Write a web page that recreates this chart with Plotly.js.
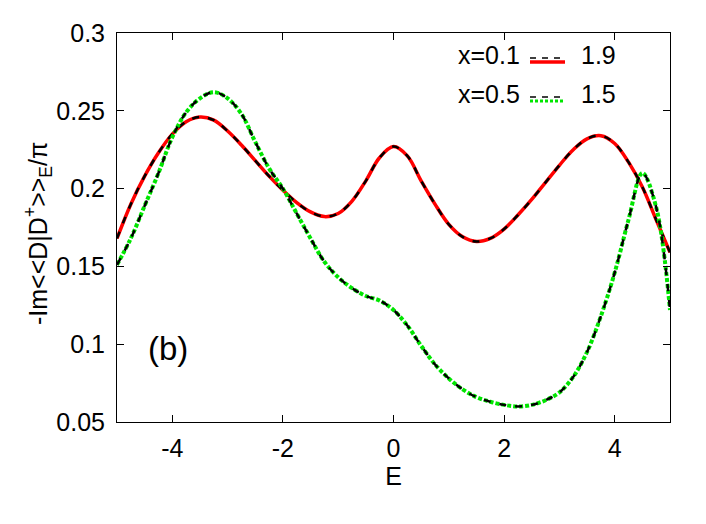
<!DOCTYPE html>
<html>
<head>
<meta charset="utf-8">
<script src="https://cdn.plot.ly/plotly-3.0.1.min.js"></script>
<style>html,body{margin:0;padding:0;background:#fff;}#chart{width:706px;height:524px;}</style>
</head>
<body>
<div id="chart"></div>
<script>
const energy = [-5,-4.75,-4.5,-4.25,-4,-3.75,-3.5,-3.25,-3,-2.75,-2.5,-2.25,-2,-1.75,-1.5,-1.25,-1,-0.75,-0.5,-0.25,0,0.25,0.5,0.75,1,1.25,1.5,1.75,2,2.25,2.5,2.75,3,3.25,3.5,3.75,4,4.25,4.5,4.75,5];
const red19 = [0.168,0.190,0.208,0.223,0.235,0.243,0.246,0.244,0.237,0.228,0.218,0.208,0.199,0.191,0.185,0.182,0.184,0.192,0.205,0.220,0.227,0.221,0.205,0.190,0.177,0.169,0.166,0.168,0.174,0.183,0.193,0.204,0.215,0.225,0.232,0.234,0.229,0.217,0.201,0.180,0.159];
const black01 = [0.168,0.190,0.208,0.223,0.235,0.243,0.246,0.244,0.237,0.228,0.218,0.208,0.199,0.191,0.185,0.182,0.184,0.192,0.205,0.220,0.227,0.221,0.205,0.190,0.177,0.169,0.166,0.168,0.174,0.183,0.193,0.204,0.215,0.225,0.232,0.234,0.229,0.217,0.201,0.180,0.159];
const green15 = [0.151,0.168,0.189,0.210,0.233,0.249,0.258,0.262,0.258,0.248,0.230,0.213,0.200,0.184,0.168,0.153,0.143,0.136,0.131,0.128,0.122,0.112,0.099,0.087,0.078,0.071,0.066,0.063,0.061,0.060,0.061,0.064,0.069,0.079,0.095,0.118,0.146,0.180,0.210,0.188,0.122];
const black05 = [0.151,0.168,0.189,0.210,0.233,0.249,0.258,0.262,0.258,0.248,0.230,0.213,0.200,0.184,0.168,0.153,0.143,0.136,0.131,0.128,0.122,0.112,0.099,0.087,0.078,0.071,0.066,0.063,0.061,0.060,0.061,0.064,0.069,0.079,0.095,0.118,0.146,0.180,0.210,0.188,0.122];
const xTicks = [-4,-2,0,2,4];
const yTicks = [0.05,0.1,0.15,0.2,0.25,0.3];
const legendRows = [["x=0.1","1.9"],["x=0.5","1.5"]];

const RED = "#ff0000", GREEN = "#00e600", BLACK = "#000000";
const FONT = "Liberation Sans, Arial, sans-serif";

const traces = [
  {x: energy, y: red19, mode: "lines", line: {color: RED, width: 3.5, shape: "spline", smoothing: 1}, hoverinfo: "skip"},
  {x: energy, y: black01, mode: "lines", line: {color: BLACK, width: 2.5, dash: "7px,9px", shape: "spline", smoothing: 1}, hoverinfo: "skip"},
  {x: energy, y: green15, mode: "lines", line: {color: GREEN, width: 4, dash: "4px,2px", shape: "spline", smoothing: 1}, hoverinfo: "skip"},
  {x: energy, y: black05, mode: "lines", line: {color: BLACK, width: 2.5, dash: "7px,9px", shape: "spline", smoothing: 1}, hoverinfo: "skip"}
];

// legend placement in pixels -> paper
const L = 117, R = 670, T = 33, B = 422;
const px = v => (v - L) / (R - L);
const py = v => (B - v) / (B - T);

const annotations = [];
const shapes = [];
const rowY = [55, 94];
legendRows.forEach((row, i) => {
  annotations.push({xref: "paper", yref: "paper", x: px(522), y: py(rowY[i]), xanchor: "right", yanchor: "middle", text: row[0], showarrow: false, font: {family: FONT, size: 25, color: "#000"}});
  annotations.push({xref: "paper", yref: "paper", x: px(579), y: py(rowY[i]), xanchor: "left", yanchor: "middle", text: row[1], showarrow: false, font: {family: FONT, size: 25, color: "#000"}});
});
// legend samples
shapes.push({type: "line", xref: "paper", yref: "paper", x0: px(530), x1: px(565), y0: py(62), y1: py(62), line: {color: RED, width: 3.5}});
shapes.push({type: "line", xref: "paper", yref: "paper", x0: px(530), x1: px(562), y0: py(58), y1: py(58), line: {color: BLACK, width: 1.5, dash: "6px,6px"}});
shapes.push({type: "line", xref: "paper", yref: "paper", x0: px(530), x1: px(565), y0: py(101), y1: py(101), line: {color: GREEN, width: 3, dash: "3px,2px"}});
shapes.push({type: "line", xref: "paper", yref: "paper", x0: px(530), x1: px(562), y0: py(97), y1: py(97), line: {color: BLACK, width: 1.5, dash: "6px,6px"}});

annotations.push({xref: "paper", yref: "paper", x: px(168), y: py(348), xanchor: "center", yanchor: "middle", text: "(b)", showarrow: false, font: {family: FONT, size: 33, color: "#000"}});
// y-axis title
annotations.push({xref: "paper", yref: "paper", x: px(38), y: py(234), xanchor: "center", yanchor: "middle", textangle: -90,
  text: "-Im&lt;&lt;D|D<sup>+</sup>&gt;&gt;<sub>E</sub>/π", showarrow: false, font: {family: FONT, size: 25, color: "#000"}});

const axisCommon = {
  showline: true, linecolor: "#000", linewidth: 1, mirror: "allticks",
  ticks: "inside", ticklen: 7, tickwidth: 1, tickcolor: "#000",
  showgrid: false, zeroline: false,
  tickfont: {family: FONT, size: 25, color: "#000"}
};

const layout = {
  width: 706, height: 524,
  margin: {l: L, r: 706 - R, t: T, b: 524 - B, pad: 0},
  paper_bgcolor: "#fff", plot_bgcolor: "#fff",
  showlegend: false,
  xaxis: Object.assign({}, axisCommon, {range: [-5, 5], tickvals: xTicks, ticktext: xTicks.map(String), ticklabelstandoff: 4,
    title: {text: "E", font: {family: FONT, size: 25, color: "#000"}, standoff: 6}}),
  yaxis: Object.assign({}, axisCommon, {range: [0.05, 0.3], tickvals: yTicks, ticktext: yTicks.map(String), ticklabelstandoff: 6}),
  annotations: annotations,
  shapes: shapes
};

Plotly.newPlot("chart", traces, layout, {staticPlot: true, displayModeBar: false});
</script>
</body>
</html>
